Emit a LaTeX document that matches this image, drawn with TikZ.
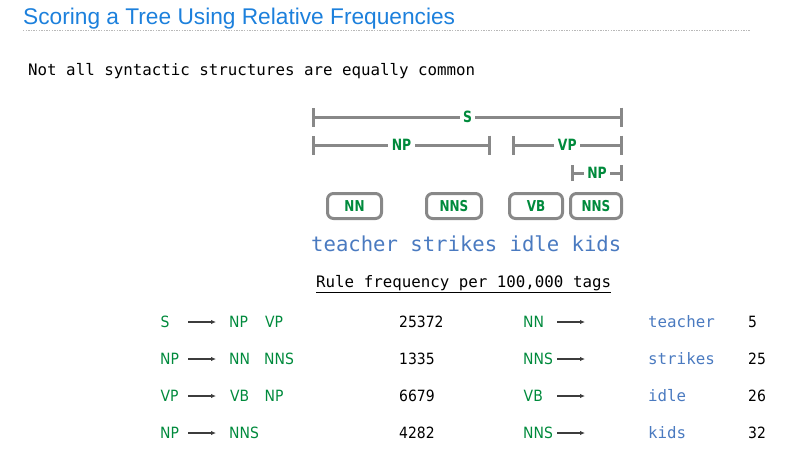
\documentclass[tikz,border=0pt]{standalone}
\usepackage{fontspec}
\usetikzlibrary{arrows.meta}
\setmainfont{DejaVu Sans}
\newfontfamily\titlefont{Liberation Sans}
\newfontfamily\monofont{DejaVu Sans Mono}
\newfontfamily\tabfont{DejaVu Sans}[FakeStretch=0.9]
\newfontfamily\labfont{DejaVu Sans Bold}[FakeStretch=0.8]
\definecolor{titleblue}{RGB}{28,128,220}
\definecolor{tgreen}{RGB}{0,138,60}
\definecolor{wblue}{RGB}{74,122,192}
\definecolor{barg}{RGB}{136,136,136}
\definecolor{arrg}{RGB}{60,60,60}
\begin{document}
\begin{tikzpicture}[x=1pt,y=-1pt,
  bar/.style={draw=barg, line width=3pt, {Bar[width=19pt]}-{Bar[width=19pt]}},
  smallbar/.style={draw=barg, line width=3pt, {Bar[width=16pt]}-{Bar[width=16pt]}},
  lab/.style={font=\labfont\fontsize{15.5}{16}\selectfont, text=tgreen, fill=white, inner sep=3.5pt},
  tagbox/.style={draw=barg, line width=3pt, rounded corners=6pt, minimum height=25pt, inner sep=0pt,
    font=\labfont\fontsize{15}{16}\selectfont, text=tgreen},
  cat/.style={anchor=base west, inner sep=0pt, font=\tabfont\fontsize{15.5}{16}\selectfont, text=tgreen},
  num/.style={anchor=base west, inner sep=0pt, font=\tabfont\fontsize{15.5}{16}\selectfont, text=black},
  word/.style={anchor=base west, inner sep=0pt, font=\monofont\fontsize{15.8}{16}\selectfont, text=wblue},
  rulearrow/.style={draw=arrg, line width=1.1pt, -{Latex[length=5pt,width=4.5pt]}}
]
\useasboundingbox (0,0) rectangle (794,452);
% title
\node[anchor=base west, inner sep=0pt, font=\titlefont\fontsize{22.7}{24}\selectfont, text=titleblue] (title) at (23,25) {Scoring a Tree Using Relative Frequencies};
\coordinate (dl) at (23,30.5);
\coordinate (dr) at (750,30.5);
\draw[gray!55, line width=1.2pt, dash pattern=on 1.3pt off 1.3pt] (dl) -- (dr);
\node[anchor=base west, inner sep=0pt, font=\monofont\fontsize{15.8}{16}\selectfont] (sub) at (28,75.7) {Not all syntactic structures are equally common};

% tree bars
\coordinate (sL) at (312,117); \coordinate (sR) at (623,117);
\draw[bar] (sL) -- (sR) node[midway, lab] (sLab) {S};
\coordinate (np1L) at (312,145); \coordinate (np1R) at (491,145);
\draw[bar] (np1L) -- (np1R) node[midway, lab] (np1Lab) {NP};
\coordinate (vpL) at (511.5,145); \coordinate (vpR) at (623,145);
\draw[bar] (vpL) -- (vpR) node[midway, lab] (vpLab) {VP};
\coordinate (np2L) at (571,173); \coordinate (np2R) at (623,173);
\draw[smallbar] (np2L) -- (np2R) node[midway, lab] (np2Lab) {NP};

% tag boxes
\node[tagbox, minimum width=54pt] (bNN) at (354.5,206) {NN};
\node[tagbox, minimum width=55pt] (bNNS) at (454,206) {NNS};
\node[tagbox, minimum width=53pt] (bVB) at (536,206) {VB};
\node[tagbox, minimum width=51pt] (bNNS2) at (596,206) {NNS};

\node[anchor=base west, inner sep=0pt, font=\monofont\fontsize{20.6}{22}\selectfont, text=wblue] (words) at (311,251) {teacher strikes idle kids};

\node[anchor=base west, inner sep=0pt, font=\monofont\fontsize{15.8}{16}\selectfont] (rf) at (316,287) {\underline{Rule frequency per 100,000 tags}};

% table rows
% row 1
\node[cat] (l1) at (160.5,327.8) {S};
\coordinate (a1s) at (188,322); \coordinate (a1e) at (216,322);
\draw[rulearrow] (a1s) -- (a1e);
\node[cat] (r1a) at (229,327.8) {NP};
\node[cat] (r1b) at (265,327.8) {VP};
\node[num] (n1) at (399,327.8) {25372};
\node[cat] (t1) at (523,327.8) {NN};
\coordinate (b1s) at (557,322); \coordinate (b1e) at (585,322);
\draw[rulearrow] (b1s) -- (b1e);
\node[word] (w1) at (648,327.8) {teacher};
\node[num] (m1) at (748,327.8) {5};
% row 2
\node[cat] (l2) at (160,364.8) {NP};
\coordinate (a2s) at (188,359); \coordinate (a2e) at (216,359);
\draw[rulearrow] (a2s) -- (a2e);
\node[cat] (r2a) at (229,364.8) {NN};
\node[cat] (r2b) at (264,364.8) {NNS};
\node[num] (n2) at (399,364.8) {1335};
\node[cat] (t2) at (523,364.8) {NNS};
\coordinate (b2s) at (557,359); \coordinate (b2e) at (585,359);
\draw[rulearrow] (b2s) -- (b2e);
\node[word] (w2) at (648,364.8) {strikes};
\node[num] (m2) at (748,364.8) {25};
% row 3
\node[cat] (l3) at (160.5,401.8) {VP};
\coordinate (a3s) at (188,396); \coordinate (a3e) at (216,396);
\draw[rulearrow] (a3s) -- (a3e);
\node[cat] (r3a) at (230,401.8) {VB};
\node[cat] (r3b) at (264.5,401.8) {NP};
\node[num] (n3) at (399,401.8) {6679};
\node[cat] (t3) at (523.5,401.8) {VB};
\coordinate (b3s) at (557,396); \coordinate (b3e) at (585,396);
\draw[rulearrow] (b3s) -- (b3e);
\node[word] (w3) at (648,401.8) {idle};
\node[num] (m3) at (748,401.8) {26};
% row 4
\node[cat] (l4) at (160,438.8) {NP};
\coordinate (a4s) at (188,433); \coordinate (a4e) at (216,433);
\draw[rulearrow] (a4s) -- (a4e);
\node[cat] (r4a) at (229,438.8) {NNS};
\node[num] (n4) at (399,438.8) {4282};
\node[cat] (t4) at (523,438.8) {NNS};
\coordinate (b4s) at (557,433); \coordinate (b4e) at (585,433);
\draw[rulearrow] (b4s) -- (b4e);
\node[word] (w4) at (648,438.8) {kids};
\node[num] (m4) at (748,438.8) {32};
\end{tikzpicture}
\end{document}
